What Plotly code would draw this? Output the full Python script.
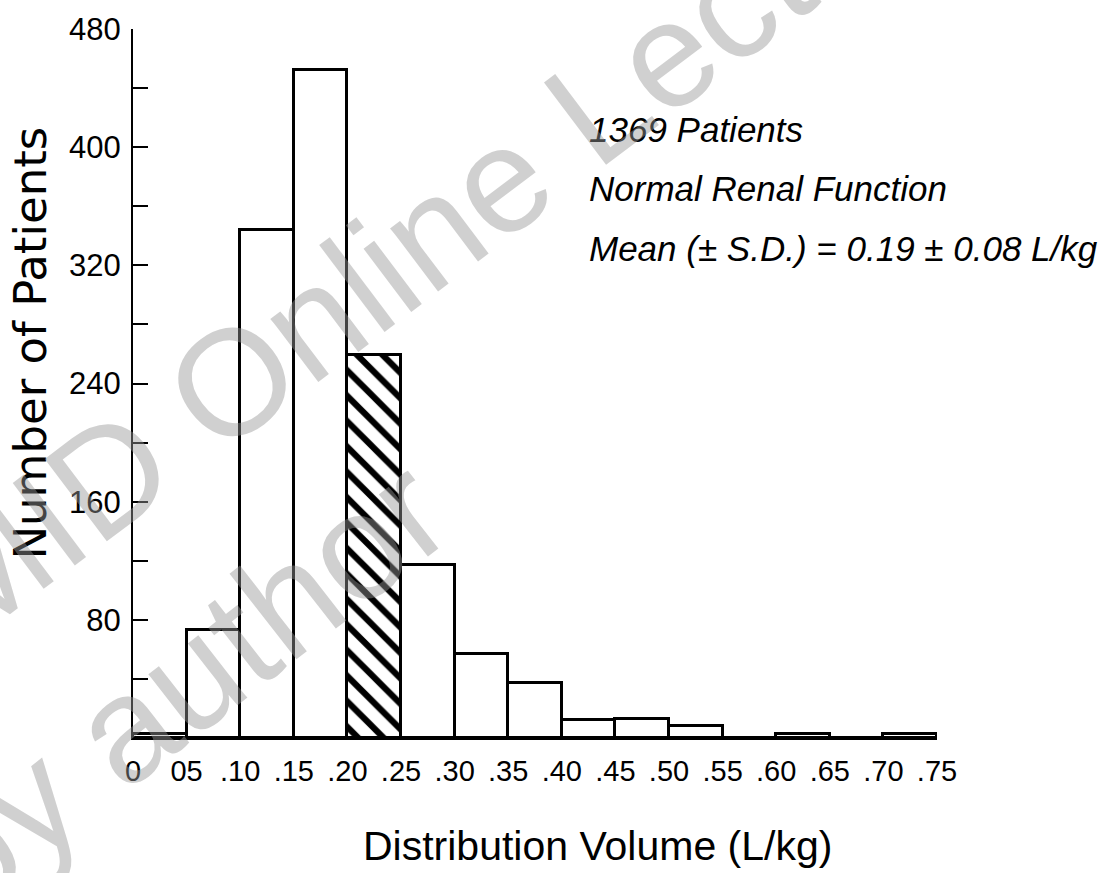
import plotly.graph_objects as go

# ---- data ----
bin_left = [0.00, 0.05, 0.10, 0.15, 0.20, 0.25, 0.30, 0.35, 0.40, 0.45, 0.50, 0.55, 0.60, 0.65, 0.70]
counts = [3, 73, 344, 452, 259, 117, 57, 37, 12, 13, 8, 0, 3, 0, 3]
hatched = [False, False, False, False, True, False, False, False, False, False, False, False, False, False, False]
x_tick_vals = [0.00, 0.05, 0.10, 0.15, 0.20, 0.25, 0.30, 0.35, 0.40, 0.45, 0.50, 0.55, 0.60, 0.65, 0.70, 0.75]
x_tick_text = ["0", "05", ".10", ".15", ".20", ".25", ".30", ".35", ".40", ".45", ".50", ".55", ".60", ".65", ".70", ".75"]
y_tick_vals = [0, 80, 160, 240, 320, 400, 480]
y_tick_text = ["", "80", "160", "240", "320", "400", "480"]
info_lines = ["1369 Patients", "Normal Renal Function", "Mean (± S.D.) = 0.19 ± 0.08 L/kg"]
x_title = "Distribution Volume (L/kg)"
y_title = "Number of Patients"
watermark = ["IMID Online Lecture", "by author"]

SANS = "Liberation Sans, Arial, sans-serif"
WIDE = "DejaVu Sans, sans-serif"

fig = go.Figure()
fig.add_trace(go.Bar(
    x=bin_left,
    y=counts,
    width=0.05,
    offset=0,
    marker=dict(
        color="white",
        line=dict(color="black", width=3),
        pattern=dict(
            shape=["\\" if h else "" for h in hatched],
            fgcolor="black",
            bgcolor="white",
            fgopacity=1,
            size=18,
            solidity=0.35,
        ),
    ),
    showlegend=False,
))

fig.update_xaxes(
    range=[0, 0.75],
    tickmode="array", tickvals=x_tick_vals, ticktext=x_tick_text,
    ticks="", ticklabelstandoff=6,
    showgrid=False, zeroline=False,
    showline=True, linecolor="black", linewidth=2,
    tickfont=dict(family=SANS, size=29, color="black"),
)
fig.update_yaxes(
    range=[0, 480],
    tickmode="array", tickvals=y_tick_vals, ticktext=y_tick_text,
    ticks="inside", ticklen=15, tickwidth=2, tickcolor="black",
    ticklabelstandoff=4,
    minor=dict(dtick=40, tick0=0, ticks="inside", ticklen=15, tickwidth=2, tickcolor="black", showgrid=False),
    showgrid=False, zeroline=False,
    showline=True, linecolor="black", linewidth=2,
    tickfont=dict(family=SANS, size=31, color="black"),
)

# axis titles (placed as annotations to match the reference offsets)
fig.add_annotation(text=x_title, xref="paper", yref="paper", x=0.578, y=-0.153,
                   xanchor="center", yanchor="middle", showarrow=False,
                   font=dict(family=SANS, size=41, color="black"))
fig.add_annotation(text=y_title, xref="paper", yref="paper", x=-0.1275, y=0.557,
                   xanchor="center", yanchor="middle", showarrow=False, textangle=-90,
                   font=dict(family=WIDE, size=45, color="black"))

ys = [0.858, 0.775, 0.69]
for t, yy in zip(info_lines, ys):
    fig.add_annotation(text=t, xref="paper", yref="paper", x=0.565, y=yy,
                       xanchor="left", yanchor="middle", showarrow=False,
                       font=dict(family=SANS, size=35, color="black", style="italic"))

# watermark
wm = "rgba(150,150,150,0.45)"
fig.add_annotation(text=watermark[0], xref="paper", yref="paper", x=0.372, y=0.715,
                   xanchor="center", yanchor="middle", showarrow=False, textangle=-37,
                   font=dict(family=SANS, size=150, color=wm))
fig.add_annotation(text=watermark[1], xref="paper", yref="paper", x=0.059, y=0.076,
                   xanchor="center", yanchor="middle", showarrow=False, textangle=-38,
                   font=dict(family=SANS, size=150, color=wm))

fig.update_layout(
    width=1105, height=873,
    margin=dict(l=133, r=168, t=27, b=135),
    paper_bgcolor="white", plot_bgcolor="white",
    bargap=0,
)

fig.write_html("out.html")
